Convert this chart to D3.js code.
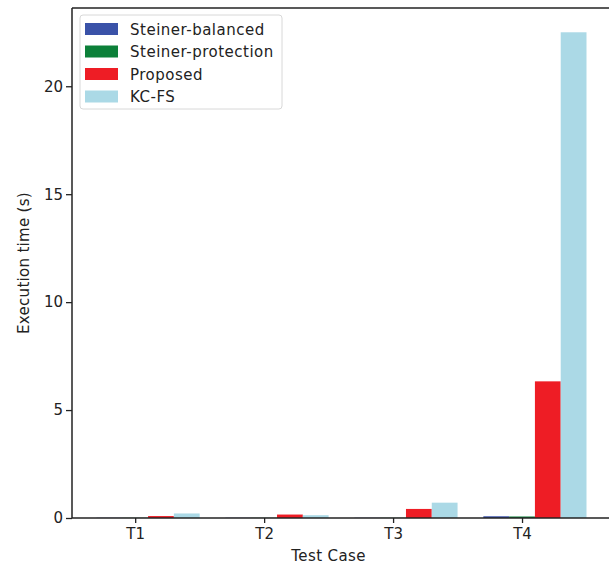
<!DOCTYPE html>
<html>
<head>
<meta charset="utf-8">
<script src="https://cdn.jsdelivr.net/npm/d3@7"></script>
<style>
  html, body { margin: 0; background: #fff; overflow: hidden; }
  svg { display: block; }
  text { font-family: "DejaVu Sans", sans-serif; fill: #222; }
</style>
</head>
<body>
<div class="canvas"></div>
<script>
// data
const testCases = ['T1', 'T2', 'T3', 'T4'];
const seriesNames = ['Steiner-balanced', 'Steiner-protection', 'Proposed', 'KC-FS'];
const steinerBalanced = [0.01, 0.01, 0.01, 0.08];
const steinerProtection = [0.01, 0.01, 0.01, 0.07];
const proposed = [0.09, 0.16, 0.42, 6.33];
const kcfs = [0.21, 0.13, 0.71, 22.5];
const yTicks = [0, 5, 10, 15, 20];
const colors = ['#3a52a8', '#0c8039', '#ee1d25', '#abd9e6'];

const series = [steinerBalanced, steinerProtection, proposed, kcfs];

const svg = d3.select('.canvas')
    .append('svg')
        .attr('width', 609)
        .attr('height', 567);

// plot area (right edge runs just past the picture)
const margin = {top: 8, left: 72, bottom: 49, right: -2};
const plotWidth = 609 - margin.left - margin.right;
const plotHeight = 567 - margin.top - margin.bottom;

const graph = svg.append('g')
    .attr('transform', `translate(${margin.left}, ${margin.top})`);

const barW = 0.2; // in category units, like matplotlib
const offsets = [-1, 0, 1, 2];

// matplotlib-style auto limits with 5% margins
const xMinData = 0 - 1.5 * barW;
const xMaxData = testCases.length - 1 + 2.5 * barW;
const xPad = (xMaxData - xMinData) * 0.05;
const x = d3.scaleLinear()
    .domain([xMinData - xPad, xMaxData + xPad])
    .range([0, plotWidth]);

const yMax = d3.max(series.flat()) * 1.05;
const y = d3.scaleLinear()
    .domain([0, yMax])
    .range([plotHeight, 0]);

// bars
series.forEach((vals, si) => {
    graph.append('g').selectAll('rect')
        .data(vals)
        .enter()
        .append('rect')
            .attr('x', (d, i) => x(i + (offsets[si] - 0.5) * barW))
            .attr('width', x(barW) - x(0))
            .attr('y', d => y(d))
            .attr('height', d => plotHeight - y(d))
            .attr('fill', colors[si]);
});

// axes
const xAxis = d3.axisBottom(x)
    .tickValues(d3.range(testCases.length))
    .tickFormat(i => testCases[i])
    .tickSize(5)
    .tickPadding(5);
const yAxis = d3.axisLeft(y)
    .tickValues(yTicks)
    .tickSize(6)
    .tickPadding(3);

const xAxisGroup = graph.append('g')
    .attr('transform', `translate(0, ${plotHeight})`)
    .call(xAxis);
const yAxisGroup = graph.append('g').call(yAxis);

[xAxisGroup, yAxisGroup].forEach(g => {
    g.select('.domain').remove();
    g.selectAll('.tick line').attr('stroke', '#222').attr('stroke-width', 1.3);
    g.selectAll('.tick text').style('font-size', '15px').attr('fill', '#222');
});

// spines: left, top, bottom (right one falls outside the picture)
const spines = [
    [[0, 0], [0, plotHeight]],
    [[0, 0], [plotWidth, 0]],
    [[0, plotHeight], [plotWidth, plotHeight]]
];
graph.selectAll('.spine')
    .data(spines)
    .enter()
    .append('line')
        .attr('class', 'spine')
        .attr('x1', d => d[0][0]).attr('y1', d => d[0][1])
        .attr('x2', d => d[1][0]).attr('y2', d => d[1][1])
        .attr('stroke', '#222')
        .attr('stroke-width', 1.5);

// axis labels
svg.append('text')
    .attr('x', margin.left + x(1.5))
    .attr('y', 561)
    .attr('text-anchor', 'middle')
    .style('font-size', '15px')
    .style('letter-spacing', '0.4px')
    .text('Test Case');

svg.append('text')
    .attr('transform', `translate(29, ${margin.top + plotHeight / 2}) rotate(-90)`)
    .attr('text-anchor', 'middle')
    .style('font-size', '15px')
    .style('letter-spacing', '0.3px')
    .text('Execution time (s)');

// legend
const legend = svg.append('g')
    .attr('transform', 'translate(80, 15)');

legend.append('rect')
    .attr('width', 202)
    .attr('height', 94)
    .attr('rx', 3)
    .attr('fill', '#fff')
    .attr('fill-opacity', 0.8)
    .attr('stroke', '#d8d8d8');

const items = legend.selectAll('.item')
    .data(seriesNames)
    .enter()
    .append('g')
        .attr('class', 'item')
        .attr('transform', (d, i) => `translate(5, ${8 + i * 22.5})`);

items.append('rect')
    .attr('width', 33)
    .attr('height', 12)
    .attr('fill', (d, i) => colors[i]);

items.append('text')
    .attr('x', 45)
    .attr('y', 11.5)
    .style('font-size', '15px')
    .style('letter-spacing', '0.5px')
    .text(d => d);
</script>
</body>
</html>
